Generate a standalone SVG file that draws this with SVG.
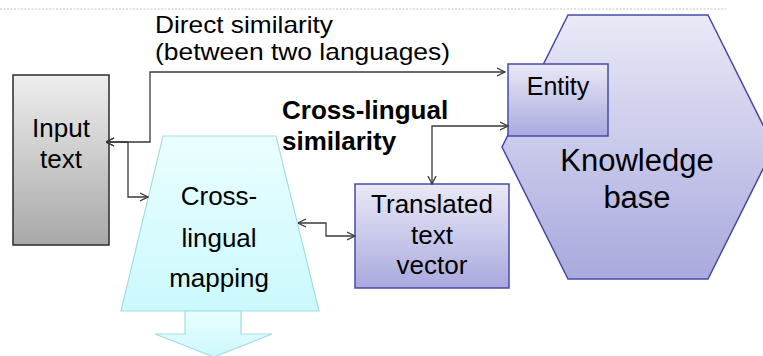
<svg xmlns="http://www.w3.org/2000/svg" width="763" height="356" viewBox="0 0 763 356">
  <style>
    .lbl { font-family: "Liberation Sans", Arial, sans-serif; font-size: 26px; fill: #000; }
    .mid { text-anchor: middle; }
    .bold { font-weight: bold; }
    .conn { fill: none; stroke: #3a3a3a; stroke-width: 1.3; marker-start: url(#arrow); marker-end: url(#arrow); }
    .blue { stroke: #4a4aa6; stroke-width: 1.5; fill: url(#gBlue); }
  </style>
  <defs>
    <linearGradient id="gBlue" x1="0" y1="0" x2="0" y2="1">
      <stop offset="0" stop-color="#E9E9F7"/>
      <stop offset="1" stop-color="#A9A9DE"/>
    </linearGradient>
    <linearGradient id="gGray" x1="0" y1="0" x2="0" y2="1">
      <stop offset="0" stop-color="#EEEEEE"/>
      <stop offset="1" stop-color="#A8A8A8"/>
    </linearGradient>
    <linearGradient id="gCyan" x1="0" y1="0" x2="0" y2="1">
      <stop offset="0" stop-color="#EAFEFF"/>
      <stop offset="1" stop-color="#CBF9FD"/>
    </linearGradient>
    <marker id="arrow" viewBox="0 0 9 10" refX="8.5" refY="5" markerWidth="9" markerHeight="10" markerUnits="userSpaceOnUse" orient="auto-start-reverse">
      <path d="M0.5,1 L8.5,5 L0.5,9" fill="none" stroke="#3a3a3a" stroke-width="1.3"/>
    </marker>
  </defs>

  <!-- header rule -->
  <line x1="0" y1="9" x2="728" y2="9" stroke="#C4C4C4" stroke-width="1" stroke-dasharray="2 1.5"/>

  <!-- knowledge base hexagon with the entity box inside -->
  <g id="knowledge-base">
    <polygon class="blue" points="568,15 708,15 774,147 708,279 568,279 502,147"/>
    <text class="lbl mid" x="637" y="171" style="font-size:31px">Knowledge</text>
    <text class="lbl mid" x="637" y="208" style="font-size:31px">base</text>
  </g>

  <g id="entity">
    <rect class="blue" x="508" y="64" width="100" height="72"/>
    <text class="lbl mid" x="558" y="95" style="font-size:25px">Entity</text>
  </g>

  <g id="input-text">
    <rect x="13" y="75" width="96" height="170" fill="url(#gGray)" stroke="#2b2b2b" stroke-width="1.5"/>
    <text class="lbl mid" x="61" y="137">Input</text>
    <text class="lbl mid" x="61" y="168">text</text>
  </g>

  <g id="cross-lingual-mapping">
    <polygon points="163,136 276,136 319,311 121,311" fill="url(#gCyan)" stroke="#A6DCE0" stroke-width="1.2"/>
    <polygon points="185,311 241,311 241,334 272,334 214,357 155,334 185,334" fill="url(#gCyan)" stroke="#A6DCE0" stroke-width="1.2"/>
    <text class="lbl mid" x="219" y="205">Cross-</text>
    <text class="lbl mid" x="219" y="247">lingual</text>
    <text class="lbl mid" x="219" y="287">mapping</text>
  </g>

  <g id="translated-text-vector">
    <rect class="blue" x="355" y="184" width="154" height="104"/>
    <text class="lbl mid" x="432" y="213">Translated</text>
    <text class="lbl mid" x="432" y="244">text</text>
    <text class="lbl mid" x="432" y="274">vector</text>
  </g>

  <g id="connectors">
    <path class="conn" d="M106,142 H150 V72 H505"/>
    <path class="conn" d="M106,142 H128 V197 H148"/>
    <path class="conn" d="M298,223 H326 V236 H355"/>
    <path class="conn" d="M432,184 V126 H508"/>
  </g>

  <g id="labels">
    <text class="lbl" x="155" y="33" style="font-size:24px" textLength="178" lengthAdjust="spacingAndGlyphs">Direct similarity</text>
    <text class="lbl" x="155" y="60" style="font-size:24px" textLength="295" lengthAdjust="spacingAndGlyphs">(between two languages)</text>
    <text class="lbl bold" x="282" y="119">Cross-lingual</text>
    <text class="lbl bold" x="282" y="150">similarity</text>
  </g>
</svg>
